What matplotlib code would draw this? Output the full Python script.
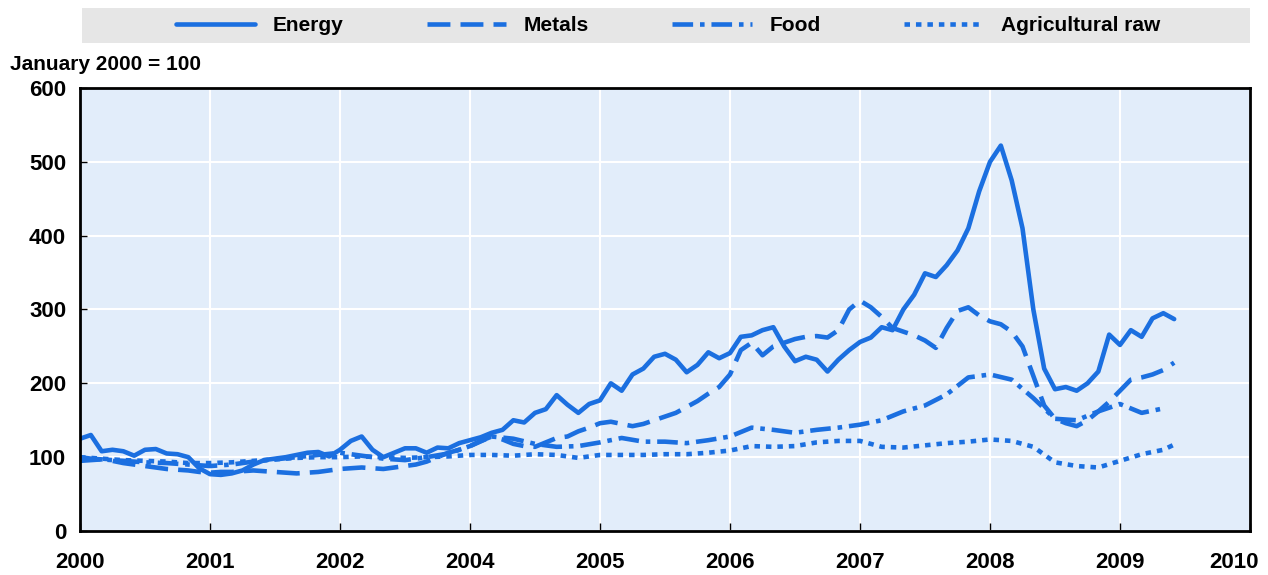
import numpy as np
import matplotlib
matplotlib.use('Agg')
import matplotlib.pyplot as plt
from matplotlib.patches import Rectangle
from matplotlib.transforms import offset_copy

plt.rcParams['font.family'] = ['Liberation Sans', 'DejaVu Sans']

# Datos (indice enero 2000 = 100), meses desde el inicio
energy_months = list(range(0, 102))
energy = [125, 130, 108, 110, 108, 102, 110, 111, 105, 104, 100, 85,
          77, 76, 78, 82, 90, 96, 98, 100, 103, 106, 107, 101,
          110, 122, 128, 110, 100, 106, 112, 112, 106, 113, 112, 119,
          123, 127, 133, 137, 150, 147, 160, 165, 184, 171, 160, 172,
          177, 200, 190, 212, 220, 236, 240, 232, 215, 225, 242, 234,
          241, 263, 265, 272, 276, 250, 230, 236, 232, 216, 232, 245,
          256, 262, 276, 272, 300, 320, 349, 344, 360, 380, 410, 460,
          500, 522, 475, 410, 300, 220, 192, 195, 190, 200, 216, 266,
          252, 272, 263, 288, 295, 287]

metals_months = list(range(0, 102))
metals = [100, 98, 97, 95, 92, 90, 88, 86, 84, 83, 82, 80,
          79, 80, 80, 81, 82, 81, 80, 79, 78, 79, 80, 82,
          84, 85, 86, 85, 84, 86, 88, 90, 94, 100, 106, 110,
          115, 122, 128, 124, 118, 115, 114, 120, 126, 128, 135, 140,
          146, 148, 145, 142, 145, 150, 155, 160, 168, 176, 186, 195,
          212, 245, 255, 238, 250, 255, 260, 263, 264, 262, 272, 300,
          312, 303, 290, 275, 270, 265, 258, 248, 275, 298, 303, 292,
          284, 280, 270, 250, 210, 170, 152, 146, 142, 150, 162, 175,
          190, 205, 208, 212, 218, 228]

food_months = list(range(0, 101, 2))
food = [95, 97, 95, 93, 92, 90, 88, 90, 94, 97, 100, 103,
        106, 102, 98, 96, 100, 105, 115, 128, 125, 118, 114, 115,
        120, 126, 121, 121, 119, 123, 128, 140, 137, 133, 137, 140,
        144, 150, 162, 170, 185, 208, 212, 205, 180, 152, 150, 162,
        172, 160, 166]

agri_months = list(range(0, 101, 2)) + [101]
agri = [100, 98, 96, 95, 94, 92, 92, 93, 95, 97, 99, 100,
        100, 101, 100, 99, 100, 101, 103, 103, 102, 104, 103, 99,
        103, 103, 103, 104, 104, 106, 109, 115, 114, 115, 120, 122,
        122, 114, 113, 116, 119, 121, 124, 122, 114, 93, 88, 86,
        95, 104, 110, 117]

year_labels = ['2000', '2001', '2002', '2004', '2005', '2006', '2007', '2008', '2009', '2010']
y_ticks = [0, 100, 200, 300, 400, 500, 600]

color = '#1b6fe0'
lw = 3.3

fig = plt.figure(figsize=(12.68, 5.75), dpi=100)
ax = fig.add_axes([80 / 1268, 1 - 531 / 575, 1170 / 1268, 443 / 575])
ax.set_facecolor('#e2edfa')

def to_x(months):
    return np.array(months) / 12.0

ax.plot(to_x(energy_months), energy, color=color, lw=lw, label='Energy',
        solid_joinstyle='round', solid_capstyle='round')
ax.plot(to_x(metals_months), metals, color=color, lw=lw, label='Metals',
        dashes=(5, 2.2))
ax.plot(to_x(food_months), food, color=color, lw=lw, label='Food',
        dashes=(4.5, 1.5, 1, 1.5))
ax.plot(to_x(agri_months), agri, color=color, lw=lw, label='Agricultural raw',
        dashes=(1.2, 1.3))

ax.set_xlim(0, 9)
ax.set_ylim(0, 600)
ax.set_xticks(range(len(year_labels)))
ax.set_xticklabels(year_labels)
ax.set_yticks(y_ticks)
ax.grid(True, color='white', lw=1.5)
ax.set_axisbelow(True)

for s in ax.spines.values():
    s.set_color('black')
    s.set_linewidth(2)

ax.tick_params(axis='x', direction='in', length=6, width=1, pad=15, labelsize=16)
ax.tick_params(axis='y', direction='in', length=5, width=1, pad=10, labelsize=16)
for lab in ax.get_xticklabels() + ax.get_yticklabels():
    lab.set_fontweight('bold')

# el 2010 queda pegado al borde, se corre un poco a la izquierda
last = ax.get_xticklabels()[-1]
last.set_transform(offset_copy(last.get_transform(), fig=fig, x=-16, units='dots'))

fig.text(10 / 1268, 1 - 65 / 575, 'January 2000 = 100', fontsize=15,
         fontweight='bold', va='center', ha='left')

# Barra gris de la leyenda
fig.patches.append(Rectangle((82 / 1268, 1 - 43 / 575), 1168 / 1268, 35 / 575,
                             transform=fig.transFigure, facecolor='#e6e6e6',
                             edgecolor='none', zorder=0))
fig.legend(loc='center', bbox_to_anchor=(668 / 1268, 1 - 25.5 / 575), ncol=4,
           frameon=False, handlelength=3.8, handletextpad=0.86,
           columnspacing=4.0, prop={'size': 15, 'weight': 'bold'})

plt.savefig('out.png', dpi=100)
